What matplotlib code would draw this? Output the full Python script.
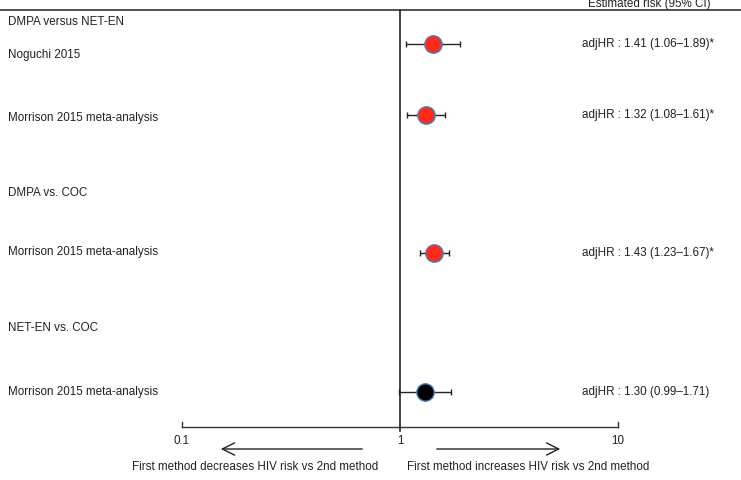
import numpy as np
import matplotlib
matplotlib.use("Agg")
import matplotlib.pyplot as plt

plt.rcParams['font.family'] = ['Liberation Sans', 'DejaVu Sans']

# Data
groups = ["DMPA versus NET-EN", "DMPA vs. COC", "NET-EN vs. COC"]
studies = ["Noguchi 2015", "Morrison 2015 meta-analysis",
           "Morrison 2015 meta-analysis", "Morrison 2015 meta-analysis"]
hr = [1.41, 1.32, 1.43, 1.30]
lo = [1.06, 1.08, 1.23, 0.99]
hi = [1.89, 1.61, 1.67, 1.71]
labels = ["adjHR : 1.41 (1.06\u20131.89)*", "adjHR : 1.32 (1.08\u20131.61)*",
          "adjHR : 1.43 (1.23\u20131.67)*", "adjHR : 1.30 (0.99\u20131.71)"]
colors = ["#ff2a1a", "#ff2a1a", "#ff2a1a", "#000000"]
ticks = [0.1, 1, 10]
tick_labels = ["0.1", "1", "10"]

# Layout (pixel rows from top)
group_y = [22, 193, 328]
point_y = [44, 115, 253, 392]
study_y = [55, 118, 252, 392]

W, H = 741, 480
fig = plt.figure(figsize=(W / 100, H / 100), dpi=100)
ax = fig.add_axes([0, 0, 1, 1])
ax.set_xscale('log')
dec = 218.0
x0 = 400.0
ax.set_xlim(10 ** ((0 - x0) / dec), 10 ** ((W - x0) / dec))
ax.set_ylim(H, 0)
ax.axis('off')

def px(xpix):
    return 10 ** ((xpix - x0) / dec)

fs = 8.4
# top line
ax.plot([px(0), px(W)], [10, 10], color='#333333', lw=1.2)
ax.text(px(649), 3.5, "Estimated risk (95% CI)", ha='center', va='center', fontsize=fs, color='#222222')
# vertical reference line
ax.plot([1, 1], [10, 431], color='#222222', lw=1.2)
# x axis
ax.plot([ticks[0], ticks[-1]], [427, 427], color='#333333', lw=1.0)
for t in [ticks[0], ticks[-1]]:
    ax.plot([t, t], [422, 427], color='#333333', lw=1.0)
for t, lab in zip(ticks, tick_labels):
    ax.text(t, 441, lab, ha='center', va='center', fontsize=fs, color='#222222')

# arrows
ax.annotate("", xy=(px(218), 449), xytext=(px(365), 449),
            arrowprops=dict(arrowstyle='->', color='#222222', lw=1.0, mutation_scale=22))
ax.annotate("", xy=(px(563), 449), xytext=(px(434), 449),
            arrowprops=dict(arrowstyle='->', color='#222222', lw=1.0, mutation_scale=22))
ax.text(px(255), 467, "First method decreases HIV risk vs 2nd method", ha='center', va='center',
        fontsize=fs, color='#222222')
ax.text(px(528), 467, "First method increases HIV risk vs 2nd method", ha='center', va='center',
        fontsize=fs, color='#222222')

for g, y in zip(groups, group_y):
    ax.text(px(8), y, g, ha='left', va='center', fontsize=fs, color='#222222')
for s, y in zip(studies, study_y):
    ax.text(px(8), y, s, ha='left', va='center', fontsize=fs, color='#222222')

for h, l, u, c, lab, y in zip(hr, lo, hi, colors, labels, point_y):
    ax.errorbar([h], [y], xerr=[[h - l], [u - h]], fmt='none', ecolor='#222222',
                elinewidth=1.0, capsize=2.5, capthick=1.0)
    ax.plot([h], [y], 'o', ms=12.5, mfc=c, mec='#4a7fc0', mew=1.0)
    ax.text(px(582), y, lab, ha='left', va='center', fontsize=fs, color='#222222')

fig.savefig("out.png", dpi=100)
